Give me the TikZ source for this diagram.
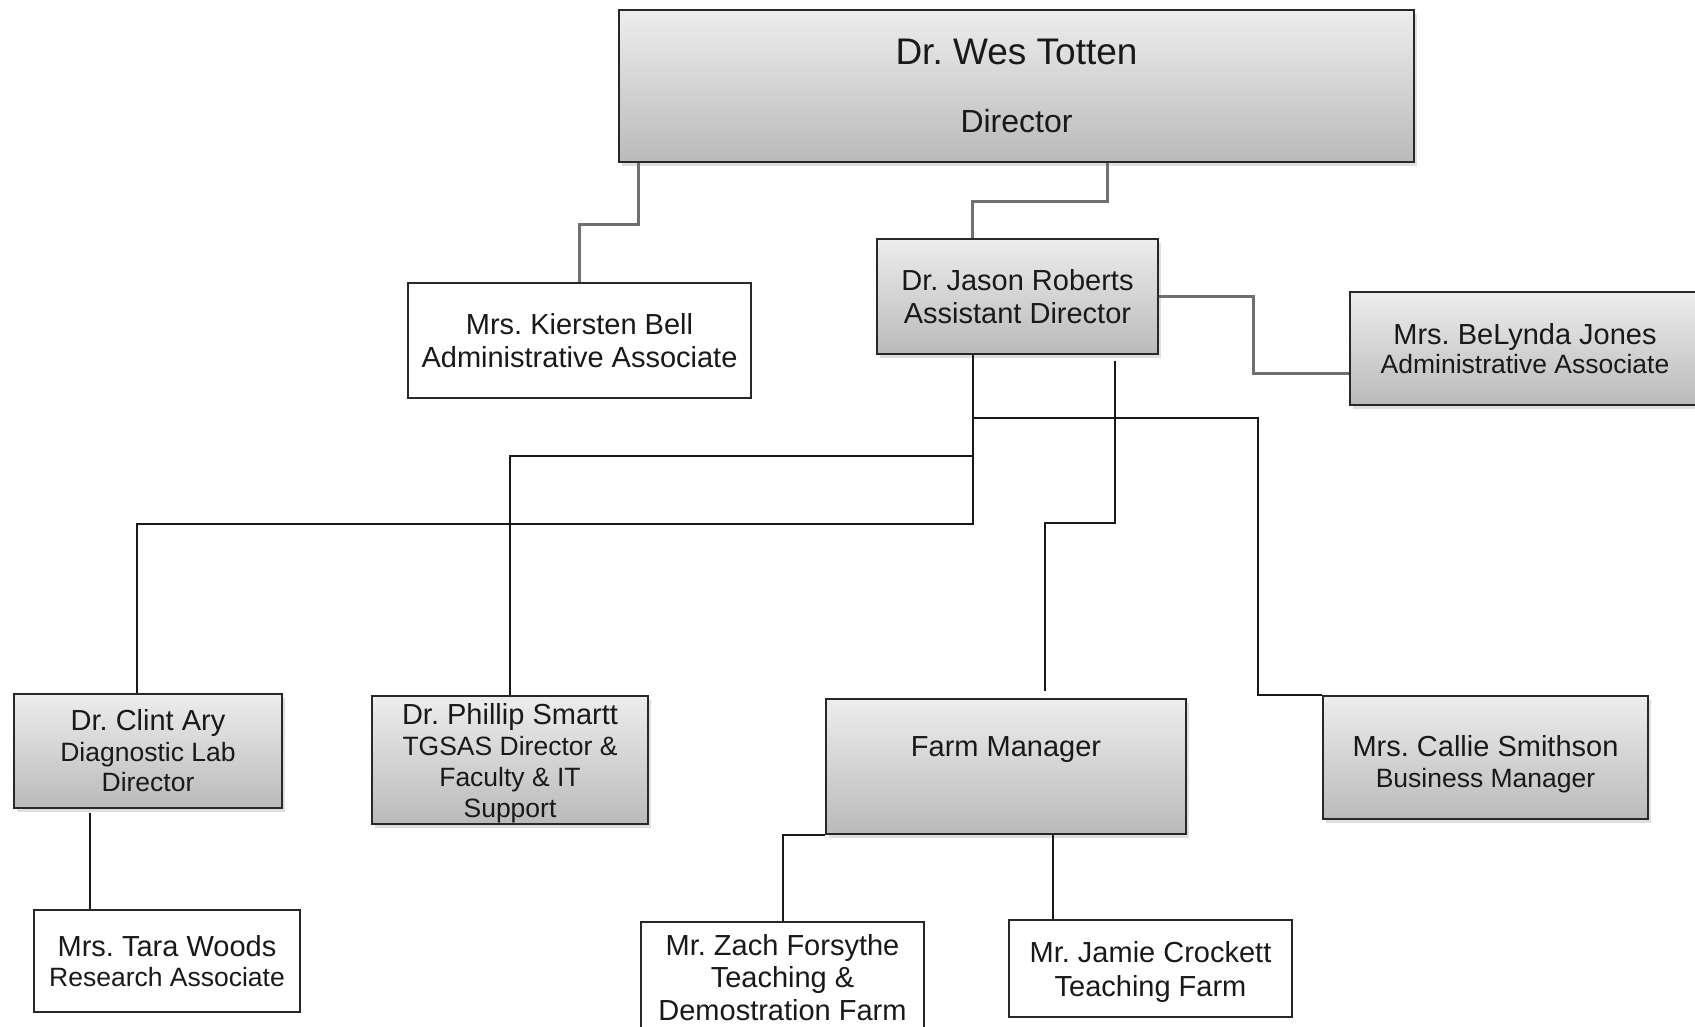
\documentclass[tikz,border=0pt]{standalone}
\usepackage{fontspec}
\setmainfont{Liberation Sans}
\usetikzlibrary{shadows}
\definecolor{gtop}{RGB}{237,237,237}
\definecolor{gbot}{RGB}{186,186,186}
\definecolor{bordc}{RGB}{40,40,40}
\definecolor{glinec}{RGB}{112,112,112}
\definecolor{blinec}{RGB}{25,25,25}
\definecolor{txtc}{RGB}{25,25,25}
\newcommand\smallline[1]{{\fontsize{26.5}{30.5}\selectfont #1}}
\frenchspacing
\begin{document}
\begin{tikzpicture}[x=1pt,y=-1pt,
  box/.style={draw=bordc, line width=2pt, inner sep=0pt, align=center, text=txtc,
    font=\fontsize{29}{33.5}\selectfont},
  gbox/.style={box, top color=gtop, bottom color=gbot,
    drop shadow={opacity=0.25, shadow xshift=3pt, shadow yshift=-4pt}},
  wbox/.style={box, fill=white},
  mixfont/.style={font=\fontsize{29}{30.5}\selectfont},
  gline/.style={draw=glinec, line width=3pt},
  bline/.style={draw=blinec, line width=2pt}]
\fill[white] (0,0) rectangle (1695,1027);
\useasboundingbox (0,0) rectangle (1695,1027);

% nodes
\node[gbox, minimum width=795pt, minimum height=152pt, font=\fontsize{32}{68}\selectfont]
  (dir) at (1016.5,86) {{\fontsize{37}{68}\selectfont Dr. Wes Totten}\\Director};
\node[wbox, minimum width=343pt, minimum height=115pt]
  (bell) at (579.5,340.5) {Mrs. Kiersten Bell\\Administrative Associate};
\node[gbox, minimum width=281pt, minimum height=115pt]
  (rob) at (1017.5,296.5) {Dr. Jason Roberts\\Assistant Director};
\node[gbox, minimum width=350pt, minimum height=113pt, font=\fontsize{29}{29.5}\selectfont]
  (jones) at (1525,348.5) {Mrs. BeLynda Jones\\\smallline{Administrative Associate}};
\node[gbox, mixfont, minimum width=268pt, minimum height=114pt]
  (ary) at (148,751) {Dr. Clint Ary\\\smallline{Diagnostic Lab}\\\smallline{Director}};
\node[gbox, font=\fontsize{29}{31}\selectfont, minimum width=276pt, minimum height=128pt,
  text height=120pt, text depth=6pt]
  (smartt) at (510,760) {Dr. Phillip Smartt\\{\fontsize{26.5}{31}\selectfont TGSAS Director \&}\\{\fontsize{26.5}{31}\selectfont Faculty \& IT}\\{\fontsize{26.5}{31}\selectfont Support}};
\node[gbox, minimum width=360pt, minimum height=135pt, font=\fontsize{29}{40}\selectfont]
  (farm) at (1006,766.5) {Farm Manager\\\mbox{}};
\node[gbox, minimum width=325pt, minimum height=123pt, font=\fontsize{29}{31}\selectfont,
  text height=65pt, text depth=6pt]
  (smith) at (1485.5,757.5) {Mrs. Callie Smithson\\\smallline{Business Manager}};
\node[wbox, mixfont, minimum width=266pt, minimum height=102pt]
  (woods) at (167,961) {Mrs. Tara Woods\\\smallline{Research Associate}};
\node[wbox, minimum width=283pt, minimum height=111pt, font=\fontsize{29}{32.5}\selectfont]
  (zach) at (782.5,977.5) {Mr. Zach Forsythe\\Teaching \&\\Demostration Farm};
\node[wbox, minimum width=283pt, minimum height=97pt, text height=61pt, text depth=6pt]
  (jamie) at (1150.5,968.5) {Mr. Jamie Crockett\\Teaching Farm};

% connectors from the director
\draw[gline] ([xshift=20pt]dir.south west) -- ++(0,62) -| (bell.north);
\draw[gline] ([xshift=90.5pt]dir.south) -- ++(0,39) -| ([xshift=-45.5pt]rob.north);
\draw[gline] (rob.east) -- ++(94,0) |- ([yshift=-24.5pt]jones.west);

% connectors from the assistant director
\draw[bline] ([xshift=-44.5pt]rob.south) -- ++(0,169) -| ([xshift=-11pt]ary.north);
\draw[bline] ([xshift=-44.5pt]rob.south) ++(0,101) -| (smartt.north);
\draw[bline] ([xshift=-44.5pt]rob.south) ++(0,63) -| ([xshift=-64pt]smith.north west) -- (smith.north west);
\draw[bline] ([xshift=97.5pt,yshift=-6pt]rob.south) -- ++(0,162) -| ([xshift=39pt,yshift=7pt]farm.north);

% lower connectors
\draw[bline] ([xshift=-58pt,yshift=-4pt]ary.south) coordinate (aw) -- (aw |- woods.north);
\draw[bline] (farm.south west) -| (zach.north);
\draw[bline] ([xshift=47pt]farm.south) coordinate (fj) -- (fj |- jamie.north);
\end{tikzpicture}
\end{document}
